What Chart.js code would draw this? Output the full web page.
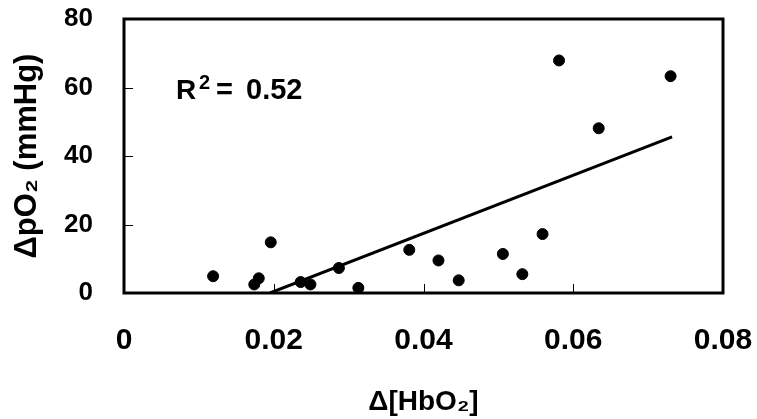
<!DOCTYPE html>
<html>
<head>
<meta charset="utf-8">
<script src="https://cdn.jsdelivr.net/npm/chart.js"></script>
<style>
  html, body { margin: 0; padding: 0; background: #fff; }
  #wrap { width: 757px; height: 419px; }
</style>
</head>
<body>
<div id="wrap"><canvas id="chart"></canvas></div>
<script>
// ---- data ----
const dHbO2 = [0.0119, 0.0174, 0.0180, 0.0196, 0.0236, 0.0249, 0.0287, 0.0313, 0.0381,
               0.0420, 0.0447, 0.0506, 0.0532, 0.0559, 0.0581, 0.0634, 0.0730];
const dpO2  = [4.9, 2.5, 4.3, 14.8, 3.2, 2.5, 7.3, 1.5, 12.6,
               9.5, 3.7, 11.4, 5.5, 17.2, 67.9, 48.1, 63.3];
// fitted line end points
const fitX = [0.0195, 0.0732];
const fitY = [0, 45.6];
const xTicks = [0, 0.02, 0.04, 0.06, 0.08];
const yTicks = [0, 20, 40, 60, 80];
const r2Label = "0.52";

const FONT = "'Liberation Sans', Arial, sans-serif";

const points = dHbO2.map((x, i) => ({ x: x, y: dpO2[i] }));
const fitLine = fitX.map((x, i) => ({ x: x, y: fitY[i] }));

// no extra room for label overhang, the layout padding decides the plot box
function fixScale(s, size) {
  if (s.isHorizontal()) s.height = size; else s.width = size;
  s.paddingLeft = s.paddingRight = s.paddingTop = s.paddingBottom = 0;
}

// frame, inner tick marks and R² label
const framePlugin = {
  id: "frame",
  afterDraw(chart) {
    const ctx = chart.ctx;
    const a = chart.chartArea;
    const xs = chart.scales.x, ys = chart.scales.y;
    ctx.save();
    // inner ticks
    ctx.strokeStyle = "#000";
    ctx.lineWidth = 1;
    ctx.beginPath();
    xTicks.slice(1, -1).forEach(v => {
      const px = Math.round(xs.getPixelForValue(v)) + 0.5;
      ctx.moveTo(px, a.bottom);
      ctx.lineTo(px, a.bottom - 9);
    });
    yTicks.slice(1, -1).forEach(v => {
      const py = Math.round(ys.getPixelForValue(v)) + 0.5;
      ctx.moveTo(a.left, py);
      ctx.lineTo(a.left + 9, py);
    });
    ctx.stroke();
    // box
    ctx.lineWidth = 3;
    ctx.strokeRect(a.left, a.top, a.right - a.left, a.bottom - a.top);
    // R² label
    const lx = xs.getPixelForValue(0.00695);
    const ly = ys.getPixelForValue(56.6);
    ctx.fillStyle = "#000";
    ctx.textBaseline = "alphabetic";
    ctx.textAlign = "left";
    ctx.font = "bold 28px " + FONT;
    ctx.fillText("R", lx, ly);
    ctx.font = "bold 20px " + FONT;
    ctx.fillText("2", lx + 23, ly - 10);
    ctx.font = "bold 29px " + FONT;
    ctx.fillText("=", lx + 40, ly);
    ctx.fillText(r2Label, lx + 70, ly);
    ctx.restore();
  }
};

new Chart(document.getElementById("chart"), {
  type: "scatter",
  data: {
    datasets: [
      {
        data: points,
        backgroundColor: "#000",
        borderColor: "#000",
        pointRadius: 5.5,
        pointHoverRadius: 5.5
      },
      {
        data: fitLine,
        showLine: true,
        borderColor: "#000",
        borderWidth: 3,
        pointRadius: 0,
        pointHoverRadius: 0
      }
    ]
  },
  options: {
    responsive: true,
    maintainAspectRatio: false,
    animation: false,
    layout: { padding: { top: 19, right: 34, left: 0, bottom: 0 } },
    plugins: { legend: { display: false }, tooltip: { enabled: false } },
    scales: {
      x: {
        type: "linear",
        min: 0, max: 0.08,
        afterBuildTicks(s) { s.ticks = xTicks.map(v => ({ value: v })); },
        afterFit(s) { fixScale(s, 126); },
        grid: { display: false, drawTicks: false },
        border: { display: false },
        ticks: {
          padding: 30,
          maxRotation: 0,
          color: "#000",
          font: { family: FONT, size: 30, weight: "bold" },
          callback: v => String(v)
        },
        title: {
          display: true,
          text: "\u0394[HbO\u2082]",
          color: "#000",
          font: { family: FONT, size: 28, weight: "bold" },
          padding: { top: 0, bottom: 0 }
        }
      },
      y: {
        type: "linear",
        min: 0, max: 80,
        afterBuildTicks(s) { s.ticks = yTicks.map(v => ({ value: v })); },
        afterFit(s) { fixScale(s, 124); },
        grid: { display: false, drawTicks: false },
        border: { display: false },
        ticks: {
          padding: 31,
          color: "#000",
          font: { family: FONT, size: 26, weight: "bold" }
        },
        title: {
          display: true,
          text: "\u0394pO\u2082 (mmHg)",
          color: "#000",
          font: { family: FONT, size: 31, weight: "bold" },
          padding: { top: 9, bottom: 0 }
        }
      }
    }
  },
  plugins: [framePlugin]
});
</script>
</body>
</html>
